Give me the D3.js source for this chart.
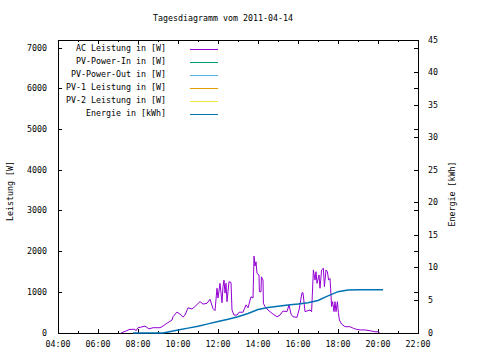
<!DOCTYPE html>
<html lang="de">
<head>
<meta charset="UTF-8">
<script src="https://d3js.org/d3.v7.min.js"></script>
<title>Tagesdiagramm</title>
<style>
  body { margin: 0; padding: 0; background: #fff; }
  text { font-family: "DejaVu Sans Mono", monospace; font-size: 8.3px; fill: #000; }
  .ax { stroke: #000; stroke-width: 1; shape-rendering: crispEdges; fill: none; }
</style>
</head>
<body>
<div id="chart"></div>
<script>
// AC Leistung [W], Zeit in Stunden
const acHour = [7.15, 7.35, 7.6, 7.85, 7.9, 8.0, 8.2, 8.35, 8.55, 8.75, 9.1, 9.25, 9.45, 9.7, 9.75, 9.95,
  10.1, 10.25, 10.35, 10.5, 10.7, 10.85, 11.1, 11.25, 11.45, 11.6, 11.75, 11.85, 11.95, 12.0, 12.1, 12.2,
  12.25, 12.3, 12.35, 12.4, 12.45, 12.55, 12.65, 12.7, 12.8, 12.95, 13.05, 13.25, 13.4, 13.5, 13.65, 13.75,
  13.8, 13.85, 13.9, 13.95, 14.05, 14.07, 14.15, 14.17, 14.25, 14.27, 14.35, 14.5, 14.75, 14.95, 15.1, 15.25,
  15.45, 15.55, 15.65, 15.75, 15.95, 16.05, 16.2, 16.25, 16.35, 16.6, 16.68, 16.77, 16.85, 16.9, 16.95, 17.05,
  17.1, 17.18, 17.27, 17.32, 17.4, 17.47, 17.53, 17.6, 17.63, 17.68, 17.73, 17.8, 17.85, 17.9, 17.97, 18.02,
  18.07, 18.18, 18.35, 18.6, 18.77, 18.93, 19.1, 19.35, 19.6, 19.85, 20.02, 20.07];
const acWatt = [0, 40, 90, 90, 55, 130, 150, 170, 100, 130, 130, 170, 240, 320, 400, 515,
  465, 390, 440, 620, 590, 650, 770, 710, 730, 830, 600, 550, 1100, 860, 1220, 745,
  1140, 1300, 980, 1220, 770, 1260, 1240, 565, 440, 440, 510, 510, 690, 620, 890, 860,
  1890, 1645, 1750, 1465, 1425, 1015, 1015, 1380, 1300, 730, 650, 565, 465, 400, 440, 540,
  525, 690, 465, 400, 385, 565, 990, 990, 525, 565, 525, 1550, 1300, 1505, 1220, 1425,
  1100, 1550, 1590, 1140, 1550, 1505, 1300, 1340, 1100, 650, 770, 525, 770, 525, 770, 500,
  320, 220, 155, 155, 115, 90, 75, 75, 55, 30, 30, 0];

// Energie [kWh]
const enHour = [7.75, 9.25, 9.5, 10, 10.5, 11, 11.5, 12, 12.5, 13, 13.5, 14, 14.5, 15, 15.5, 16,
  16.5, 17, 17.5, 18, 18.5, 19, 20.25];
const enKwh = [0, 0, 0.15, 0.45, 0.75, 1.05, 1.4, 1.75, 2.1, 2.5, 3.0, 3.6, 3.9, 4.1, 4.3, 4.45,
  4.65, 5.0, 5.7, 6.35, 6.6, 6.65, 6.65];

const legendNames = ["AC Leistung in [W]", "PV-Power-In in [W]", "PV-Power-Out in [W]",
  "PV-1 Leistung in [W]", "PV-2 Leistung in [W]", "Energie in [kWh]"];
const legendColors = ["#9400d3", "#009e73", "#56b4e9", "#e69f00", "#f0e442", "#0072b2"];

const yTicks = d3.range(0, 7001, 1000);
const y2Ticks = d3.range(0, 46, 5);
const xMajor = d3.range(4, 23, 2);
const xMinor = d3.range(5, 22, 2);

const W = 480, H = 360;
const L = 58, R = 418, T = 40, B = 333;

const svg = d3.select("#chart").append("svg").attr("width", W).attr("height", H);

const x = d3.scaleLinear().domain([4, 22]).range([L, R]);
const y = d3.scaleLinear().domain([0, 7200]).range([B, T]);
const y2 = d3.scaleLinear().domain([0, 45]).range([B, T]);

const fmtH = h => String(h).padStart(2, "0") + ":00";

// Titel
svg.append("text").attr("x", 223).attr("y", 18).attr("text-anchor", "middle")
  .attr("dominant-baseline", "middle").text("Tagesdiagramm vom 2011-04-14");

// Rahmen
svg.append("rect").attr("class", "ax").attr("x", L).attr("y", T).attr("width", R - L).attr("height", B - T);

const tk = svg.append("g").attr("class", "ax");
// x ticks unten + oben
xMajor.forEach(h => {
  tk.append("line").attr("x1", x(h)).attr("x2", x(h)).attr("y1", B).attr("y2", B - 4);
  tk.append("line").attr("x1", x(h)).attr("x2", x(h)).attr("y1", T).attr("y2", T + 4);
});
xMinor.forEach(h => {
  tk.append("line").attr("x1", x(h)).attr("x2", x(h)).attr("y1", B).attr("y2", B - 2);
  tk.append("line").attr("x1", x(h)).attr("x2", x(h)).attr("y1", T).attr("y2", T + 2);
});
// y ticks links + gespiegelt rechts
yTicks.forEach(v => {
  tk.append("line").attr("x1", L).attr("x2", L + 4).attr("y1", y(v)).attr("y2", y(v));
  tk.append("line").attr("x1", R).attr("x2", R - 4).attr("y1", y(v)).attr("y2", y(v));
});
// y2 ticks rechts
y2Ticks.forEach(v => {
  tk.append("line").attr("x1", R).attr("x2", R - 4).attr("y1", y2(v)).attr("y2", y2(v));
});

// Beschriftungen
svg.append("g").selectAll("text").data(xMajor).join("text")
  .attr("x", d => x(d)).attr("y", 344).attr("text-anchor", "middle")
  .attr("dominant-baseline", "middle").text(fmtH);
svg.append("g").selectAll("text").data(yTicks).join("text")
  .attr("x", 47).attr("y", d => y(d)).attr("text-anchor", "end")
  .attr("dominant-baseline", "middle").text(d => d);
svg.append("g").selectAll("text").data(y2Ticks).join("text")
  .attr("x", 428).attr("y", d => y2(d)).attr("text-anchor", "start")
  .attr("dominant-baseline", "middle").text(d => d);

svg.append("text").attr("transform", "translate(10,191) rotate(-90)")
  .attr("text-anchor", "middle").attr("dominant-baseline", "middle").text("Leistung [W]");
svg.append("text").attr("transform", "translate(452,194) rotate(-90)")
  .attr("text-anchor", "middle").attr("dominant-baseline", "middle").text("Energie [kWh]");

// Linien
const acLine = d3.line().x((d, i) => x(acHour[i])).y(d => y(d));
svg.append("path").datum(acWatt).attr("d", acLine)
  .attr("fill", "none").attr("stroke", legendColors[0]).attr("stroke-width", 1);

const enLine = d3.line().x((d, i) => x(enHour[i])).y(d => y2(d));
svg.append("path").datum(enKwh).attr("d", enLine)
  .attr("fill", "none").attr("stroke", legendColors[5]).attr("stroke-width", 1.5);

// Legende
const lg = svg.append("g").selectAll("g").data(legendNames).join("g")
  .attr("transform", (d, i) => `translate(0,${Math.round(49 + i * 13.06) + 0.5})`);
lg.append("text").attr("x", 166).attr("y", -1.5).attr("text-anchor", "end")
  .attr("dominant-baseline", "middle").text(d => d);
lg.append("line").attr("x1", 190).attr("x2", 218).attr("y1", 0).attr("y2", 0)
  .attr("stroke", (d, i) => legendColors[i]).attr("stroke-width", 1);
</script>
</body>
</html>
